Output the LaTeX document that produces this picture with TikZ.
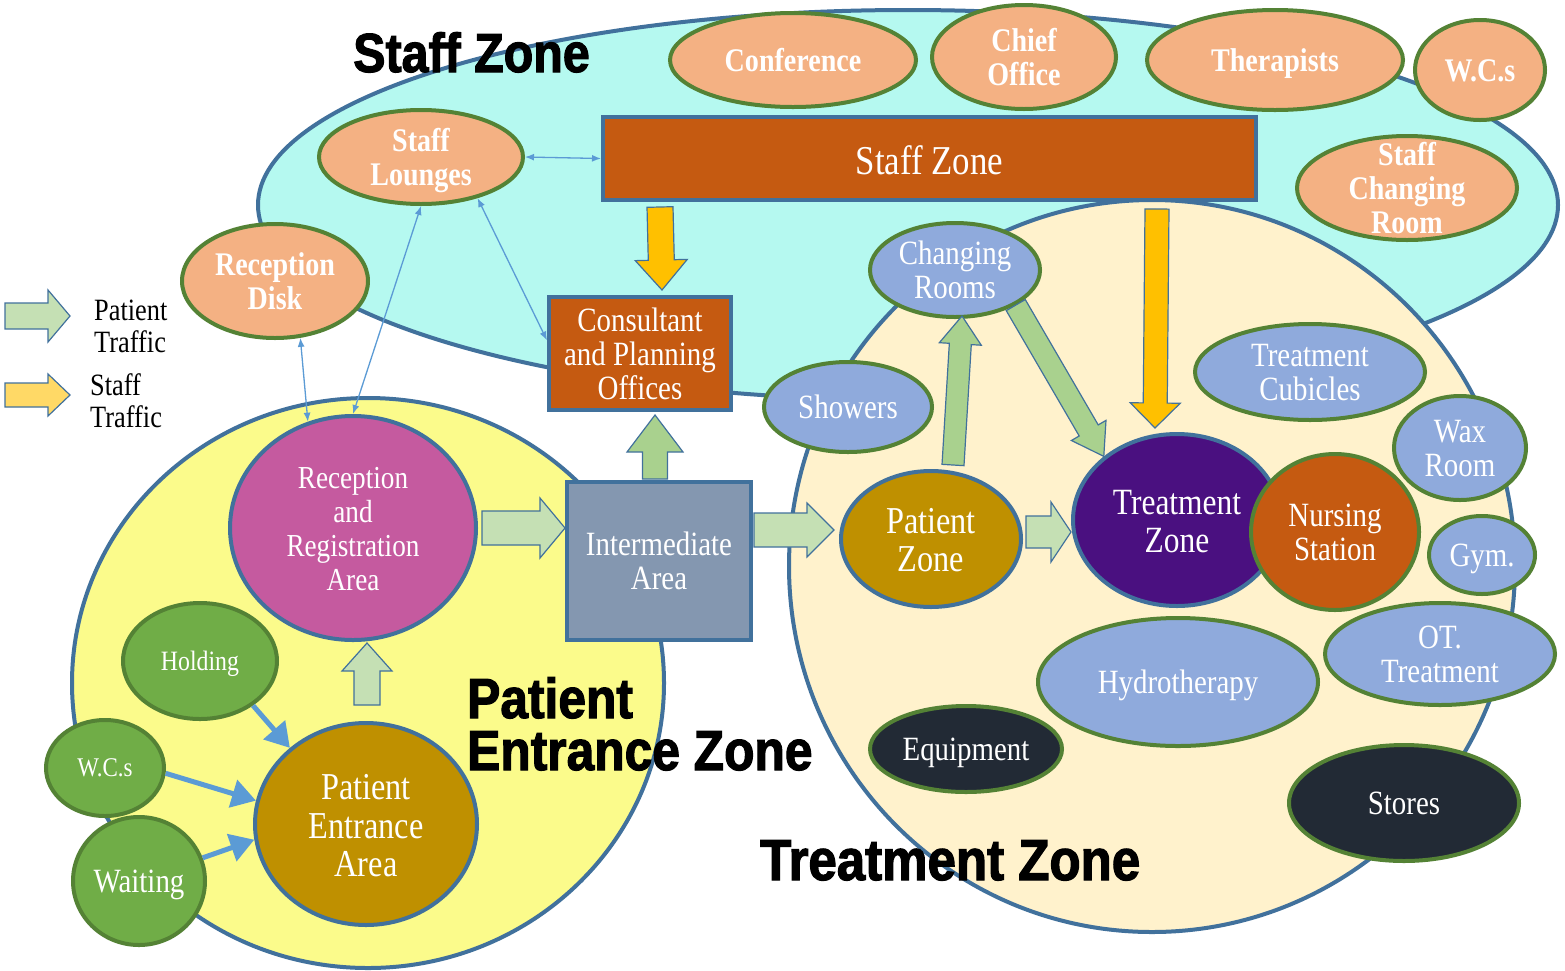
\documentclass[tikz,border=0pt]{standalone}
\usepackage{fontspec}
\setmainfont{Liberation Serif}[FakeStretch=0.85]
\newfontfamily\titlefont{Liberation Sans}[FakeStretch=0.88, BoldFeatures={FakeBold=2}]
\usetikzlibrary{shapes.geometric, arrows.meta, calc}
\definecolor{obl}{HTML}{41719C}
\definecolor{grn}{HTML}{548235}
\definecolor{cyanz}{HTML}{B5F9F0}
\definecolor{yelz}{HTML}{FBFB8B}
\definecolor{crmz}{HTML}{FFF2CC}
\definecolor{salm}{HTML}{F4B183}
\definecolor{orng}{HTML}{C55A11}
\definecolor{mgnt}{HTML}{C55A9F}
\definecolor{cgold}{HTML}{BF9000}
\definecolor{hgrn}{HTML}{70AD47}
\definecolor{lblu}{HTML}{8FAADC}
\definecolor{cdark}{HTML}{222A35}
\definecolor{purp}{HTML}{4A1080}
\definecolor{slat}{HTML}{8497B0}
\definecolor{pgrnl}{HTML}{C5E0B4}
\definecolor{pgrnd}{HTML}{A9D18E}
\definecolor{ylw}{HTML}{FFC000}
\definecolor{ylwl}{HTML}{FFD966}
\definecolor{thinb}{HTML}{5B9BD5}
\newcommand\myfs[2]{\fontsize{#1}{#2}\selectfont}
\newcommand\tx[1]{\makebox[0pt]{\smash{\raisebox{-0.33em}{\begin{tabular}{@{}c@{}}#1\end{tabular}}}}}
\newcommand\blockarr[6]{%
  \path #2; \pgfgetlastxy{\baAx}{\baAy}%
  \path #3; \pgfgetlastxy{\baBx}{\baBy}%
  \pgfmathsetmacro\baAng{atan2(\baBy-\baAy,\baBx-\baAx)}%
  \pgfmathsetmacro\baLen{veclen(\baBx-\baAx,\baBy-\baAy)}%
  \pgfmathsetmacro\baNeck{\baLen-#6}%
  \begin{scope}[shift={(\baAx,\baAy)}, rotate=\baAng]
    \draw[#1] (0pt,#4pt) -- (\baNeck pt,#4pt) -- (\baNeck pt,#5pt) -- (\baLen pt,0pt)
      -- (\baNeck pt,-#5pt) -- (\baNeck pt,-#4pt) -- (0pt,-#4pt) -- cycle;
  \end{scope}}
\tikzset{
  sz/.style 2 args={minimum width=#1pt, minimum height=#2pt},
  zone/.style={ellipse, draw=obl, line width=4pt, inner sep=0pt},
  ell/.style={ellipse, inner sep=0pt, text=white, line width=4pt, font=\myfs{34}{34}},
  salmn/.style={ell, fill=salm, draw=grn, font=\bfseries\myfs{33}{34}},
  blun/.style={ell, fill=lblu, draw=grn},
  darkn/.style={ell, fill=cdark, draw=grn},
  grnn/.style={ell, fill=hgrn, draw=grn},
  rbox/.style={rectangle, inner sep=0pt, text=white, line width=4pt, draw=obl, font=\myfs{34}{34}},
  ttl/.style={font=\titlefont\bfseries\myfs{55}{55}, inner sep=0pt, anchor=base west},
  parrl/.style={fill=pgrnl, draw=obl, line width=1.2pt},
  parrd/.style={fill=pgrnd, draw=obl, line width=1.2pt},
  sarr/.style={fill=ylw, draw=obl, line width=1.2pt},
  sarrl/.style={fill=ylwl, draw=obl, line width=1.2pt},
  thinar/.style={draw=thinb, line width=1.3pt, <->, >={Latex[length=9pt,width=7pt]}},
  thickar/.style={draw=thinb, line width=5pt, -{Triangle[length=24pt,width=28pt]}},
  lgtext/.style={font=\myfs{31}{32}, align=left, anchor=west, inner sep=0pt}
}
\begin{document}
\begin{tikzpicture}[x=1pt,y=-1pt]
\useasboundingbox (0,0) rectangle (1565,970);
\fill[white] (0,0) rectangle (1565,970);
% zones
\node[zone, fill=cyanz, sz={1300}{390}] (staffz) at (908,205) {};
\node[zone, fill=crmz, sz={726}{732}] (treatz) at (1152,566) {};
\node[zone, fill=yelz, sz={592}{570}] (patz) at (368,683) {};
% titles
\node[ttl] (tstaff) at (353,72) {Staff Zone};
\node[ttl, font=\titlefont\bfseries\myfs{56.5}{56.5}] (tpat1) at (467,718) {Patient};
\node[ttl, font=\titlefont\bfseries\myfs{56.5}{56.5}] (tpat2) at (467,770) {Entrance Zone};
\node[ttl, font=\titlefont\bfseries\myfs{58}{58}] (ttreat) at (760,880) {Treatment Zone};
% staff zone nodes
\node[salmn, sz={246}{94}] (conf) at (793,60) {\tx{Conference}};
\node[salmn, sz={184}{104}] (chief) at (1024,57) {\tx{Chief\\Office}};
\node[salmn, sz={256}{100}] (ther) at (1275,60) {\tx{Therapists}};
\node[salmn, sz={130}{100}] (swc) at (1480,70) {\tx{W.C.s}};
\node[salmn, sz={220}{104}] (schg) at (1407,188) {\tx{Staff\\Changing\\Room}};
\node[salmn, sz={204}{94}] (lounge) at (421,157) {\tx{Staff\\Lounges}};
\node[salmn, sz={186}{114}] (disk) at (275,281) {\tx{Reception\\Disk}};
\node[rbox, fill=orng, sz={653}{83}, font=\myfs{41}{41}] (staffrect) at (929.5,158.5) {\tx{Staff Zone}};
\node[rbox, fill=orng, sz={182}{113}] (consult) at (640,353.5) {\tx{Consultant\\and Planning\\Offices}};
% patient entrance zone nodes
\node[rbox, fill=slat, sz={184}{158}] (inter) at (659,561) {\tx{Intermediate\\Area}};
\node[ell, draw=obl, fill=mgnt, sz={246}{224}, font=\myfs{32}{34}] (recep) at (353,528) {\tx{Reception\\and\\Registration\\Area}};
\node[ell, draw=obl, fill=cgold, sz={222}{202}, font=\myfs{38}{38.5}] (pentr) at (366,824) {\tx{Patient\\Entrance\\Area}};
\node[grnn, sz={154}{116}, font=\myfs{28}{30}] (hold) at (200,661) {\tx{Holding}};
\node[grnn, sz={118}{96}, font=\myfs{27}{30}] (pwc) at (105,768) {\tx{W.C.s}};
\node[grnn, sz={132}{128}] (wait) at (139,881) {\tx{Waiting}};
% treatment zone nodes
\node[ell, draw=obl, fill=cgold, sz={180}{136}, font=\myfs{38}{38}] (pzone) at (931,539) {\tx{Patient\\Zone}};
\node[ell, draw=obl, fill=purp, sz={208}{172}, font=\myfs{37}{38}] (treat) at (1177,520) {\tx{Treatment\\Zone}};
\node[ell, draw=grn, fill=orng, sz={168}{156}] (nurse) at (1335,532) {\tx{Nursing\\Station}};
\node[blun, sz={170}{94}] (chroom) at (955,270) {\tx{Changing\\Rooms}};
\node[blun, sz={168}{90}] (shower) at (848,407) {\tx{Showers}};
\node[blun, sz={230}{96}] (cubic) at (1310,372) {\tx{Treatment\\Cubicles}};
\node[blun, sz={132}{104}] (wax) at (1460,448) {\tx{Wax\\Room}};
\node[blun, sz={106}{78}] (gym) at (1482,555) {\tx{Gym.}};
\node[blun, sz={230}{102}] (ot) at (1440,654) {\tx{OT.\\Treatment}};
\node[blun, sz={280}{128}] (hydro) at (1178,682) {\tx{Hydrotherapy}};
\node[darkn, sz={192}{86}] (equip) at (966,749) {\tx{Equipment}};
\node[darkn, sz={230}{116}] (stores) at (1404,803) {\tx{Stores}};
% legend
\coordinate (lp1) at (5,316);
\coordinate (lp2) at (70,316);
\coordinate (ls1) at (5,395);
\coordinate (ls2) at (70,395);
\blockarr{parrl}{(lp1)}{(lp2)}{13}{26}{22}
\blockarr{sarrl}{(ls1)}{(ls2)}{12}{21}{22}
\node[lgtext] (lgp) at (94,326) {Patient\\Traffic};
\node[lgtext] (lgs) at (90,401) {Staff\\Traffic};
% block arrows
\blockarr{parrl}{($(recep.east)+(4,0)$)}{(recep.east -| inter.west)}{17}{30}{25}
\blockarr{parrl}{($(inter.east)+(1,-31)$)}{($(pzone.west)+(-5,-9)$)}{17}{27}{27}
\blockarr{parrl}{($(pzone.east)+(3,-7)$)}{($(treat.west)+(0,12)$)}{16}{30}{20}
\blockarr{parrd}{($(inter.north)+(-4,-1)$)}{($(consult.south)+(15,3)$)}{12.5}{28}{37}
\blockarr{parrl}{($(pentr.north)+(1,-16)$)}{($(recep.south)+(14,1)$)}{13}{25}{28}
\blockarr{parrd}{($(pzone.north)+(22,-4)$)}{($(chroom.south)+(7,-3)$)}{11}{21}{28}
\blockarr{parrd}{(chroom.-30)}{(treat.139)}{11}{20}{30}
\blockarr{sarr}{($(staffrect.south west)+(59,5)$)}{($(consult.north)+(22,-5)$)}{13}{26}{30}
\blockarr{sarr}{($(staffrect.south east)+(-101,7)$)}{($(treat.north)+(-22,-4)$)}{12}{25}{25}
% thin double arrows
\draw[thinar] (lounge.east) -- (staffrect.west);
\draw[thinar] (disk.-66) -- (recep.113);
\draw[thinar] (lounge.south) -- (recep.north);
\draw[thinar] (lounge.-36) -- (consult.172);
% thick arrows
\draw[thickar] (hold.-40) -- (pentr.135);
\draw[thickar] (pwc.-5) -- (pentr.168);
\draw[thickar] (wait.20) -- (pentr.188);
\end{tikzpicture}
\end{document}
